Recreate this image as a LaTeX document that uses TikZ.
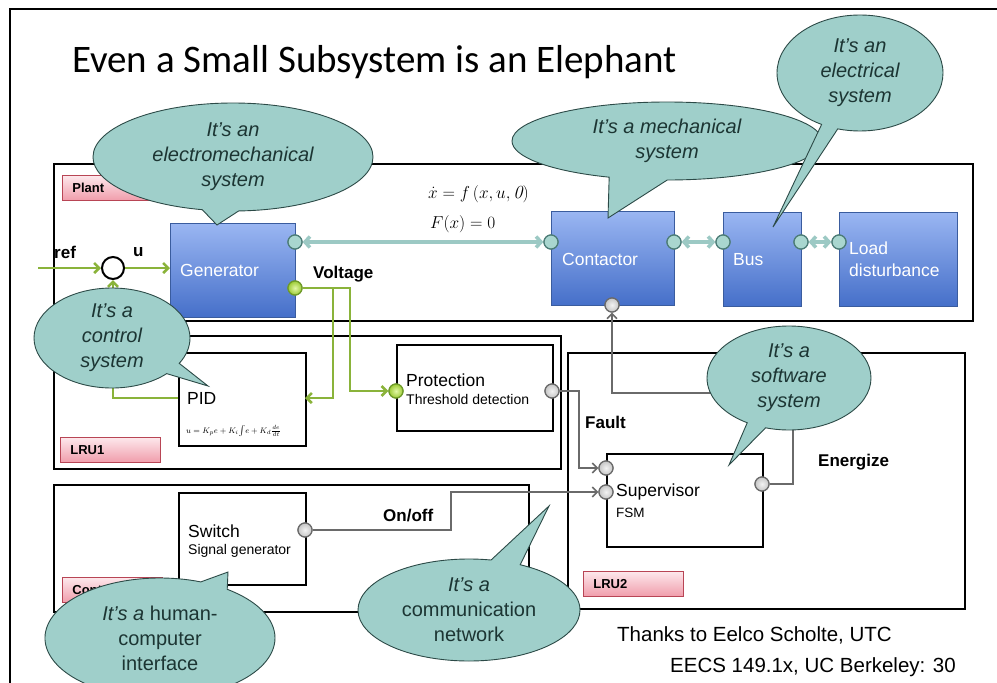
\documentclass[tikz,border=0pt]{standalone}
\usepackage{fontspec}
\setmainfont{Liberation Sans}
\newfontfamily\titlefont{Carlito}
\usetikzlibrary{shapes.callouts,shapes.geometric,arrows.meta,shadings}

\definecolor{bubblefill}{HTML}{9FCFCA}
\definecolor{bubbleline}{HTML}{2C4A47}
\definecolor{bubbletext}{HTML}{1C3533}
\definecolor{bluetop}{HTML}{9AB6F2}
\definecolor{bluebot}{HTML}{456FC9}
\definecolor{blueline}{HTML}{3A5C9E}
\definecolor{pinktop}{HTML}{FDE8EC}
\definecolor{pinkbot}{HTML}{F09DAB}
\definecolor{pinkline}{HTML}{B84555}
\definecolor{wiregreen}{HTML}{8AB33A}
\definecolor{wiregrey}{HTML}{6A6A6A}
\definecolor{linkteal}{HTML}{9CC9C4}
\definecolor{portteal}{HTML}{A9D6CF}
\definecolor{porttealedge}{HTML}{4C7C76}
\definecolor{greenin}{HTML}{E2F7A6}
\definecolor{greenout}{HTML}{9CCB35}
\definecolor{greenedge}{HTML}{6E9A2A}

\newcommand{\itzero}{\hbox{\fontfamily{lmr}\selectfont\itshape 0}}

\begin{document}
\begin{tikzpicture}[x=1pt,y=-1pt,
  fs/.style={font=\fontsize{#1}{22}\selectfont},
  subsys/.style={rectangle,draw=black,line width=1.8pt,anchor=north west,inner sep=0pt},
  whitebox/.style={rectangle,draw=black,line width=1.6pt,fill=white,anchor=north west,inner sep=0pt},
  bluebox/.style={rectangle,draw=blueline,line width=0.8pt,top color=bluetop,bottom color=bluebot,anchor=north west,inner sep=0pt},
  pinklabel/.style={rectangle,draw=pinkline,line width=0.8pt,top color=pinktop,bottom color=pinkbot,
    anchor=north west,text width=80pt,inner xsep=10pt,inner ysep=0pt,minimum height=25pt,align=left,
    font=\bfseries\fontsize{13}{15}\selectfont},
  port/.style={circle,minimum size=14pt,inner sep=0pt,line width=1.2pt},
  tealport/.style={port,draw=porttealedge,fill=portteal},
  greenport/.style={port,draw=greenedge,inner color=greenin,outer color=greenout},
  greyport/.style={port,draw=wiregrey,inner color=white!90!gray,outer color=gray!45},
  gwire/.style={draw=wiregreen,line width=2.6pt,-{Straight Barb[length=5pt,width=10pt]}},
  kwire/.style={draw=wiregrey,line width=1.6pt,-{Straight Barb[length=5pt,width=10pt]}},
  tlink/.style={draw=linkteal,line width=3.5pt,{Straight Barb[length=5pt,width=11pt]}-{Straight Barb[length=5pt,width=11pt]}},
  boxtext/.style={anchor=west,inner sep=0pt,text=white,fs=17.5},
  plaintext/.style={anchor=west,inner sep=0pt,fs=17.5},
  smalltext/.style={anchor=west,inner sep=0pt,fs=14},
  signal/.style={anchor=west,inner sep=0pt,font=\bfseries\fontsize{17}{20}\selectfont},
  eqtext/.style={anchor=west,inner sep=0pt,font=\fontsize{18.5}{22}\selectfont},
  bubble/.style={ellipse callout,draw=bubbleline,line width=0.9pt,fill=bubblefill,text=bubbletext,
    font=\itshape\fontsize{20}{25}\selectfont,align=center,inner sep=0pt}
]
\useasboundingbox (0,0) rectangle (997,683);
\fill[white] (0,0) rectangle (997,683);

% slide frame
\draw[line width=1.5pt] (10,683) -- (10,9) -- (997,9);

% title
\node[anchor=base west,inner sep=0pt,font=\titlefont\fontsize{39}{47}\selectfont] (title) at (72,72)
  {Even a Small Subsystem is an Elephant};

% subsystem frames
\node[subsys,minimum width=919pt,minimum height=157pt] (plant) at (53,163) {};
\node[subsys,minimum width=507pt,minimum height=133pt] (lru1) at (53,335) {};
\node[subsys,minimum width=475pt,minimum height=127pt] (ctrl) at (53,484) {};
\node[subsys,minimum width=397pt,minimum height=256pt] (lru2) at (567,352) {};

\node[pinklabel] (plantlbl) at (62,175) {Plant};
\node[pinklabel] (lru1lbl) at (60,437) {LRU1};
\node[pinklabel] (ctrllbl) at (62,577) {Control};
\node[pinklabel] (lru2lbl) at (583,571) {LRU2};

% physical components
\node[bluebox,minimum width=125pt,minimum height=94pt] (gen) at (170,223) {};
\node[bluebox,minimum width=123pt,minimum height=94pt] (cont) at (551,211) {};
\node[bluebox,minimum width=78pt,minimum height=94pt] (bus) at (723,212) {};
\node[bluebox,minimum width=118pt,minimum height=94pt] (load) at (839,212) {};
\node[boxtext] (gentxt) at (180,270) {Generator};
\node[boxtext] (conttxt) at (562,259) {Contactor};
\node[boxtext] (bustxt) at (733,260) {Bus};
\node[boxtext,align=left] (loadtxt) at (849,259) {Load\\disturbance};

% plant equations
\node[eqtext] (eq1) at (428,194) {$\dot{x} = f\,(x,u,\itzero)$};
\node[eqtext] (eq2) at (430,224) {$F(x) = 0$};

% software / hardware blocks
\node[whitebox,minimum width=127pt,minimum height=93pt] (pid) at (178,352) {};
\node[whitebox,minimum width=156pt,minimum height=86pt] (prot) at (396,344) {};
\node[whitebox,minimum width=127pt,minimum height=92pt] (sw) at (178,492) {};
\node[whitebox,minimum width=156pt,minimum height=93pt] (sup) at (606,453) {};

\node[plaintext] (pidtxt) at (187,398) {PID};
\node[anchor=west,inner sep=0pt,font=\fontsize{8}{10}\selectfont] (pidlaw) at (186,431) {$u=K_pe+K_i\!\int\! e+K_d\frac{de}{dt}$};
\node[plaintext] (prottxt) at (406,380) {Protection};
\node[smalltext] (prottxt2) at (406,399) {Threshold detection};
\node[plaintext] (swtxt) at (188,531) {Switch};
\node[smalltext] (swtxt2) at (188,551) {Signal generator};
\node[plaintext] (suptxt) at (616,492) {Supervisor};
\node[anchor=west,inner sep=0pt,fs=13.5] (suptxt2) at (616,513) {FSM};

% summing junction
\node[circle,draw=black,line width=2pt,minimum size=22pt,inner sep=0pt] (sum) at (113,268) {};

% ports
\node[tealport] (gp) at (295,242) {};
\node[greenport] (gv) at (295,288) {};
\node[tealport] (cpl) at (551,242) {};
\node[tealport] (cpr) at (674,242) {};
\node[greyport] (cpb) at (612,305) {};
\node[tealport] (bpl) at (723,242) {};
\node[tealport] (bpr) at (801,242) {};
\node[tealport] (lpl) at (839,242) {};
\node[greenport] (pp) at (396,391) {};
\node[greyport] (prp) at (552,391) {};
\node[greyport] (sp1) at (606,468) {};
\node[greyport] (sp2) at (606,492) {};
\node[greyport] (spr) at (762,484) {};
\node[greyport] (swp) at (305,530) {};

\coordinate (refin) at (38,268);
\coordinate (genin) at (170,268);
\coordinate (pidin) at (305,398);
\coordinate (pidout) at (178,398);

% control loop wires
\draw[gwire] (refin) -- (sum);
\draw[gwire] (sum) -- (genin);
\draw[gwire] (gv.east) -- (333,288) |- (pidin);
\draw[gwire] (gv.east) -- (350,288) |- (pp);
\draw[gwire] (pidout) -| (sum);

% physical links
\draw[tlink] (gp) -- (cpl);
\draw[tlink] (cpr) -- (bpl);
\draw[tlink] (bpr) -- (lpl);

% discrete signals
\draw[kwire] (prp) -- (579,391) |- (sp1);
\draw[kwire] (swp) -- (451,530) |- (sp2);
\draw[kwire] (spr) -- (793,484) -- (793,393) -| (cpb);

% redraw ports above the wires
\foreach \p/\s in {gp/tealport,gv/greenport,cpl/tealport,cpr/tealport,cpb/greyport,bpl/tealport,bpr/tealport,lpl/tealport,pp/greenport,prp/greyport,sp1/greyport,sp2/greyport,spr/greyport,swp/greyport}
  \node[\s] at (\p) {};

% signal labels
\node[signal] (reflbl) at (54,252) {ref};
\node[signal] (ulbl) at (133,252) {u};
\node[signal] (voltlbl) at (313,274) {Voltage};
\node[signal] (faultlbl) at (585,422) {Fault};
\node[signal] (energlbl) at (818,462) {Energize};
\node[signal] (onofflbl) at (383,516) {On/off};

% callouts
\node[bubble,minimum width=280pt,minimum height=108pt,callout absolute pointer={(217,225)}] (b1) at (233,157)
  {It’s an\\electromechanical\\system};
\node[bubble,minimum width=310pt,minimum height=78pt,callout pointer arc=22,callout absolute pointer={(608,218)}] (b2) at (667,141)
  {It’s a mechanical\\system};
\node[bubble,minimum width=166pt,minimum height=116pt,callout pointer arc=12,callout absolute pointer={(773,227)}] (b3) at (860,73)
  {It’s an\\electrical\\system};
\node[bubble,minimum width=156pt,minimum height=100pt,callout absolute pointer={(208,386)}] (b4) at (112,338)
  {It’s a\\control\\system};
\node[bubble,minimum width=164pt,minimum height=104pt,callout pointer arc=14,callout absolute pointer={(729,465)}] (b5) at (789,378)
  {It’s a\\software\\system};
\node[bubble,minimum width=230pt,minimum height=120pt,callout absolute pointer={(228,572)},font=\fontsize{20}{25}\selectfont] (b6) at (160,638)
  {\textit{It’s a} human-\\computer\\interface};
\node[bubble,minimum width=222pt,minimum height=102pt,callout pointer arc=16,callout absolute pointer={(549,506)},font=\fontsize{20}{25}\selectfont] (b7) at (469,610)
  {\textit{It’s a}\\communication\\network};

% footer
\node[anchor=west,inner sep=0pt,fs=20.5] (thanks) at (617,635) {Thanks to Eelco Scholte, UTC};
\node[anchor=west,inner sep=0pt,fs=20.5] (course) at (670,667) {EECS 149.1x, UC Berkeley: 30};
\end{tikzpicture}
\end{document}
